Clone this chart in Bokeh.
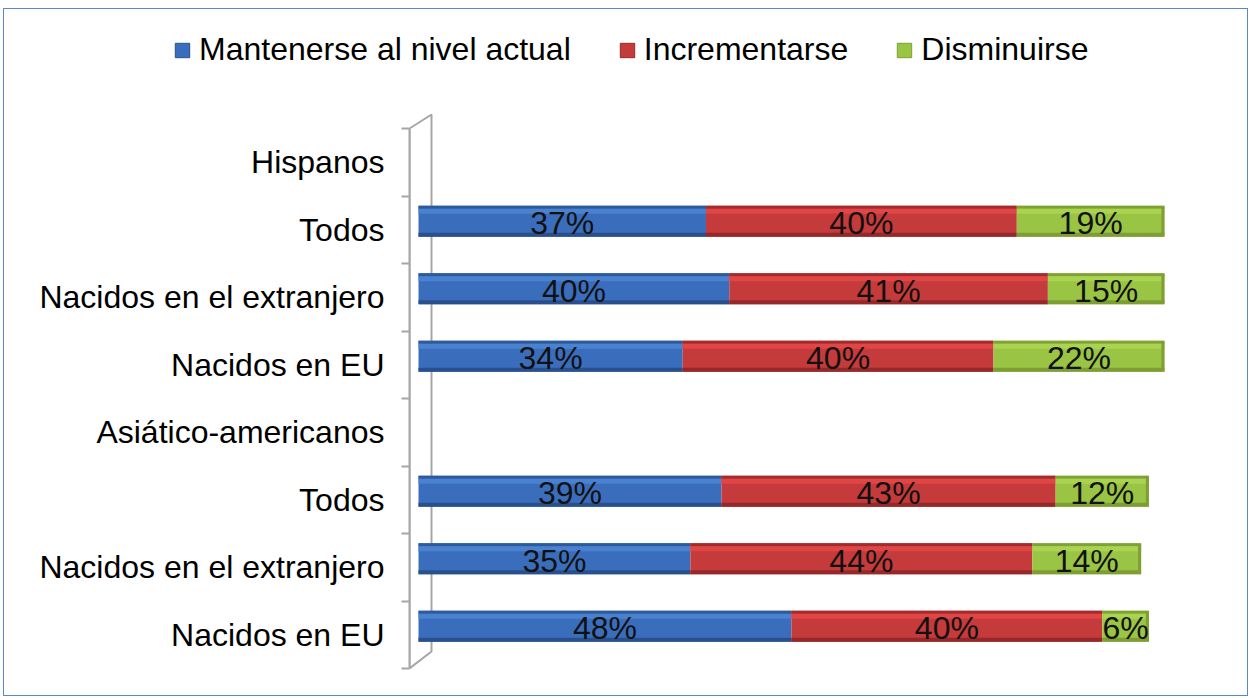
from bokeh.plotting import figure
from bokeh.layouts import column
from bokeh.models import Range1d, FixedTicker, Legend, LegendItem, ColumnDataSource
from bokeh.core.properties import value
from bokeh.embed import file_html
from bokeh.resources import INLINE

# ---- data (top to bottom, as in the chart) ----
categories = ["Hispanos", "Todos", "Nacidos en el extranjero", "Nacidos en EU",
              "Asiático-americanos", "Todos", "Nacidos en el extranjero", "Nacidos en EU"]
mantenerse = [None, 37, 40, 34, None, 39, 35, 48]
incrementarse = [None, 40, 41, 40, None, 43, 44, 40]
disminuirse = [None, 19, 15, 22, None, 12, 14, 6]
series_names = ["Mantenerse al nivel actual", "Incrementarse", "Disminuirse"]

# ---- styling ----
FONT = "Liberation Sans"
FS = "32px"
ROW_PX = 67.5            # pixels per category row
BAR_H = 0.46             # bar thickness (rows)
BAR_SHIFT = 0.126        # 3D perspective shift of bars (rows)
PX_PER_PCT = 7.77
W = 1243
LEG_H = 90
MAIN_H = 596
# colours: (top band, highlight, main, bottom band)
palette = [
    ("#2C5A9C", "#4A82D0", "#3A6EBD", "#29508C"),
    ("#A32B2C", "#E04646", "#C53A3A", "#952828"),
    ("#7FA234", "#AAD352", "#9AC444", "#7D9E33"),
]

n = len(categories)
centers = [n - 1 - i + 0.5 for i in range(n)]
rows = [i for i in range(n) if mantenerse[i] is not None]

ys = [centers[i] + BAR_SHIFT for i in rows]
vals = [[mantenerse[i] for i in rows], [incrementarse[i] for i in rows], [disminuirse[i] for i in rows]]
lefts, rights = [], []
acc = [0] * len(rows)
for v in vals:
    lefts.append(list(acc))
    acc = [a + b for a, b in zip(acc, v)]
    rights.append(list(acc))

x_start = -(9 / PX_PER_PCT)
p = figure(width=W, height=MAIN_H, output_backend="svg", toolbar_location=None,
           x_axis_location=None, min_border_left=405, min_border_right=18,
           min_border_top=13, min_border_bottom=25,
           x_range=Range1d(x_start, x_start + 820 / PX_PER_PCT),
           y_range=Range1d(-2 / ROW_PX, 8 + 16 / ROW_PX))
p.frame_align = False
p.outline_line_color = None
p.xgrid.visible = False
p.ygrid.visible = False
p.background_fill_color = "white"
p.border_fill_color = "white"

# 3D wall of the category axis
wall_depth = 13 / PX_PER_PCT
p.patch(x=[x_start, x_start, wall_depth, wall_depth],
        y=[0, n, n + 14 / ROW_PX, 17 / ROW_PX],
        fill_color="white", line_color="#A6A6A6", line_width=2)

# y axis: labels at row centres, ticks at row boundaries
ax = p.yaxis[0]
ax.ticker = FixedTicker(ticks=centers, minor_ticks=list(range(n + 1)))
ax.major_label_overrides = {c: lab for c, lab in zip(centers, categories)}
ax.major_tick_out = 0
ax.major_tick_in = 0
ax.minor_tick_out = 8
ax.minor_tick_in = 0
ax.minor_tick_line_color = "#A6A6A6"
ax.minor_tick_line_width = 2
ax.axis_line_color = "#A6A6A6"
ax.axis_line_width = 2
ax.bounds = (0, n)
ax.major_label_standoff = 17
ax.major_label_text_font = FONT
ax.major_label_text_font_size = FS
ax.major_label_text_color = "#000000"

src = ColumnDataSource(dict(y=ys,
                            l0=lefts[0], r0=rights[0],
                            l1=lefts[1], r1=rights[1],
                            l2=lefts[2], r2=rights[2]))

unit = 1 / ROW_PX
bar_top_off = BAR_H / 2
for k in range(3):
    top_c, hi_c, main_c, bot_c = palette[k]
    p.hbar(y="y", left=f"l{k}", right=f"r{k}", height=BAR_H, source=src,
           fill_color=main_c, line_color=None)
    # top band
    p.hbar(y=[y + bar_top_off - 1.5 * unit for y in ys], left=lefts[k], right=rights[k],
           height=3 * unit, fill_color=top_c, line_color=None)
    # highlight band
    p.hbar(y=[y + bar_top_off - 5.5 * unit for y in ys], left=lefts[k], right=rights[k],
           height=5 * unit, fill_color=hi_c, line_color=None)
    # bottom band
    p.hbar(y=[y - bar_top_off + 2 * unit for y in ys], left=lefts[k], right=rights[k],
           height=4 * unit, fill_color=bot_c, line_color=None)

# darker rounded-looking end cap of each stack (3D side face)
cap_w = 3 / PX_PER_PCT
p.hbar(y=ys, left=[r - cap_w for r in rights[2]], right=rights[2],
       height=BAR_H - 2 * unit, fill_color="#7F9F35", line_color=None)

# value labels
tx, ty, tt = [], [], []
for k in range(3):
    for j in range(len(rows)):
        tx.append((lefts[k][j] + rights[k][j]) / 2)
        ty.append(ys[j] - 2 * unit)
        tt.append(f"{vals[k][j]}%")
p.text(x=tx, y=ty, text=tt, text_align="center", text_baseline="middle",
       text_font=value(FONT), text_font_size=FS, text_color="#111111")

# ---- legend strip on top ----
lf = figure(width=W, height=LEG_H, output_backend="svg", toolbar_location=None,
            x_axis_location=None, y_axis_location=None, min_border=0,
            x_range=Range1d(0, 1), y_range=Range1d(0, 1))
lf.frame_align = False
lf.outline_line_color = None
lf.xgrid.visible = False
lf.ygrid.visible = False
lf.border_fill_color = "white"
leg_items = []
for k in range(3):
    # swatch renderer kept off-view; only its legend glyph is shown
    r = lf.hbar(y=[-5], left=[0], right=[1], height=0.5, fill_color=palette[k][2],
                line_color=palette[k][3], line_width=1)
    leg_items.append(LegendItem(label=series_names[k], renderers=[r]))
legend = Legend(items=leg_items, orientation="horizontal", location=(169, 31),
                border_line_color=None, background_fill_alpha=0,
                padding=0, margin=0, spacing=47,
                glyph_width=18, glyph_height=18, label_standoff=8,
                label_text_font=FONT, label_text_font_size=FS, label_text_color="#000000")
lf.add_layout(legend, "center")

layout = column(lf, p, spacing=0,
                styles={"border": "1px solid #5A87C5", "margin": "8px 0px 0px 3px",
                        "background-color": "white"})

open("out.html", "w").write(file_html(layout, INLINE))
